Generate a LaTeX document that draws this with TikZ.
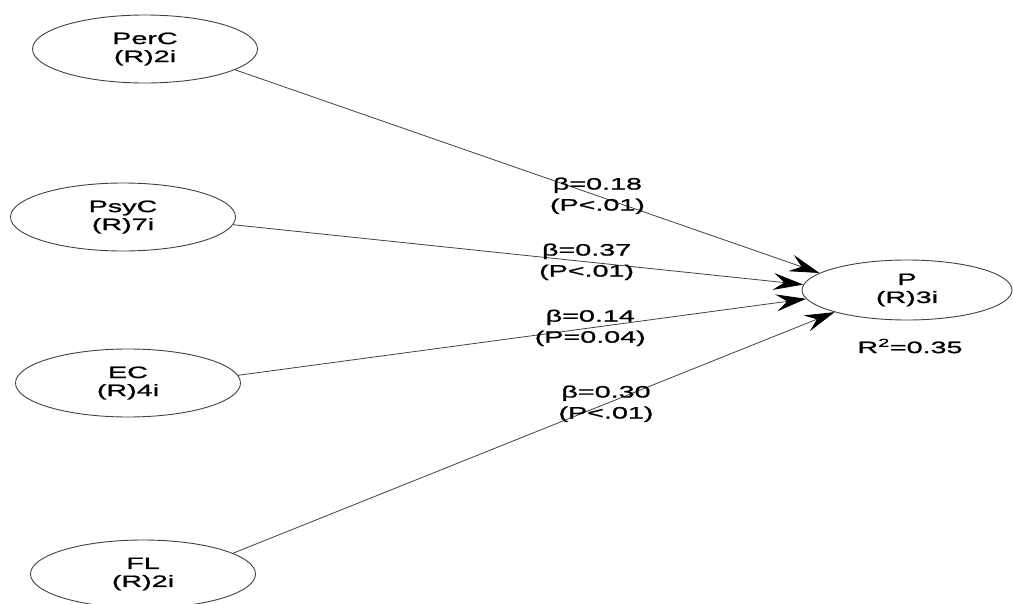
\documentclass[tikz,border=0pt]{standalone}
\usepackage{fontspec}
\setmainfont[FakeStretch=1.74,FakeBold=1.2]{Liberation Sans}
\usetikzlibrary{shapes.geometric,arrows.meta}
\begin{document}
\begin{tikzpicture}[x=1pt,y=-1pt,
  latent/.style={ellipse,draw=black!75,line width=0.9pt,inner sep=0pt,
    minimum width=#1,minimum height=68pt,align=center,
    font=\fontsize{16.5}{18}\selectfont},
  latent/.default=225pt,
  path/.style={draw=black!75,line width=0.8pt,
    -{Stealth[length=30pt,width=17pt,inset=11pt,color=black]}},
  coef/.style={align=center,font=\fontsize{16.5}{21}\selectfont,pos=0.62}]
\clip (0,0) rectangle (1013,603);
\useasboundingbox (0,0) rectangle (1013,603);

% exogenous constructs
\node[latent] (perc) at (145,49)  {PerC\\(R)2i};
\node[latent] (psyc) at (123,217) {PsyC\\(R)7i};
\node[latent] (ec)   at (128,383) {EC\\(R)4i};
\node[latent] (fl)   at (143,574) {FL\\(R)2i};

% endogenous construct
\node[latent=210pt,minimum height=60pt] (p) at (907,290) {P\\(R)3i};
\node[font=\fontsize{16.5}{18}\selectfont] (r2) at (910,346) {R\textsuperscript{2}=0.35};

% structural paths
\draw[path] (perc.-13) -- node[coef] (l1) {β=0.18\\(P<.01)} (p.169);
\draw[path] (psyc.-4)  -- node[coef] (l2) {β=0.37\\(P<.01)} (p.177);
\draw[path] (ec.4)     -- node[coef] (l3) {β=0.14\\(P=0.04)} (p.185);
\draw[path] (fl.13)    -- node[coef] (l4) {β=0.30\\(P<.01)} (p.197);
\end{tikzpicture}
\end{document}
